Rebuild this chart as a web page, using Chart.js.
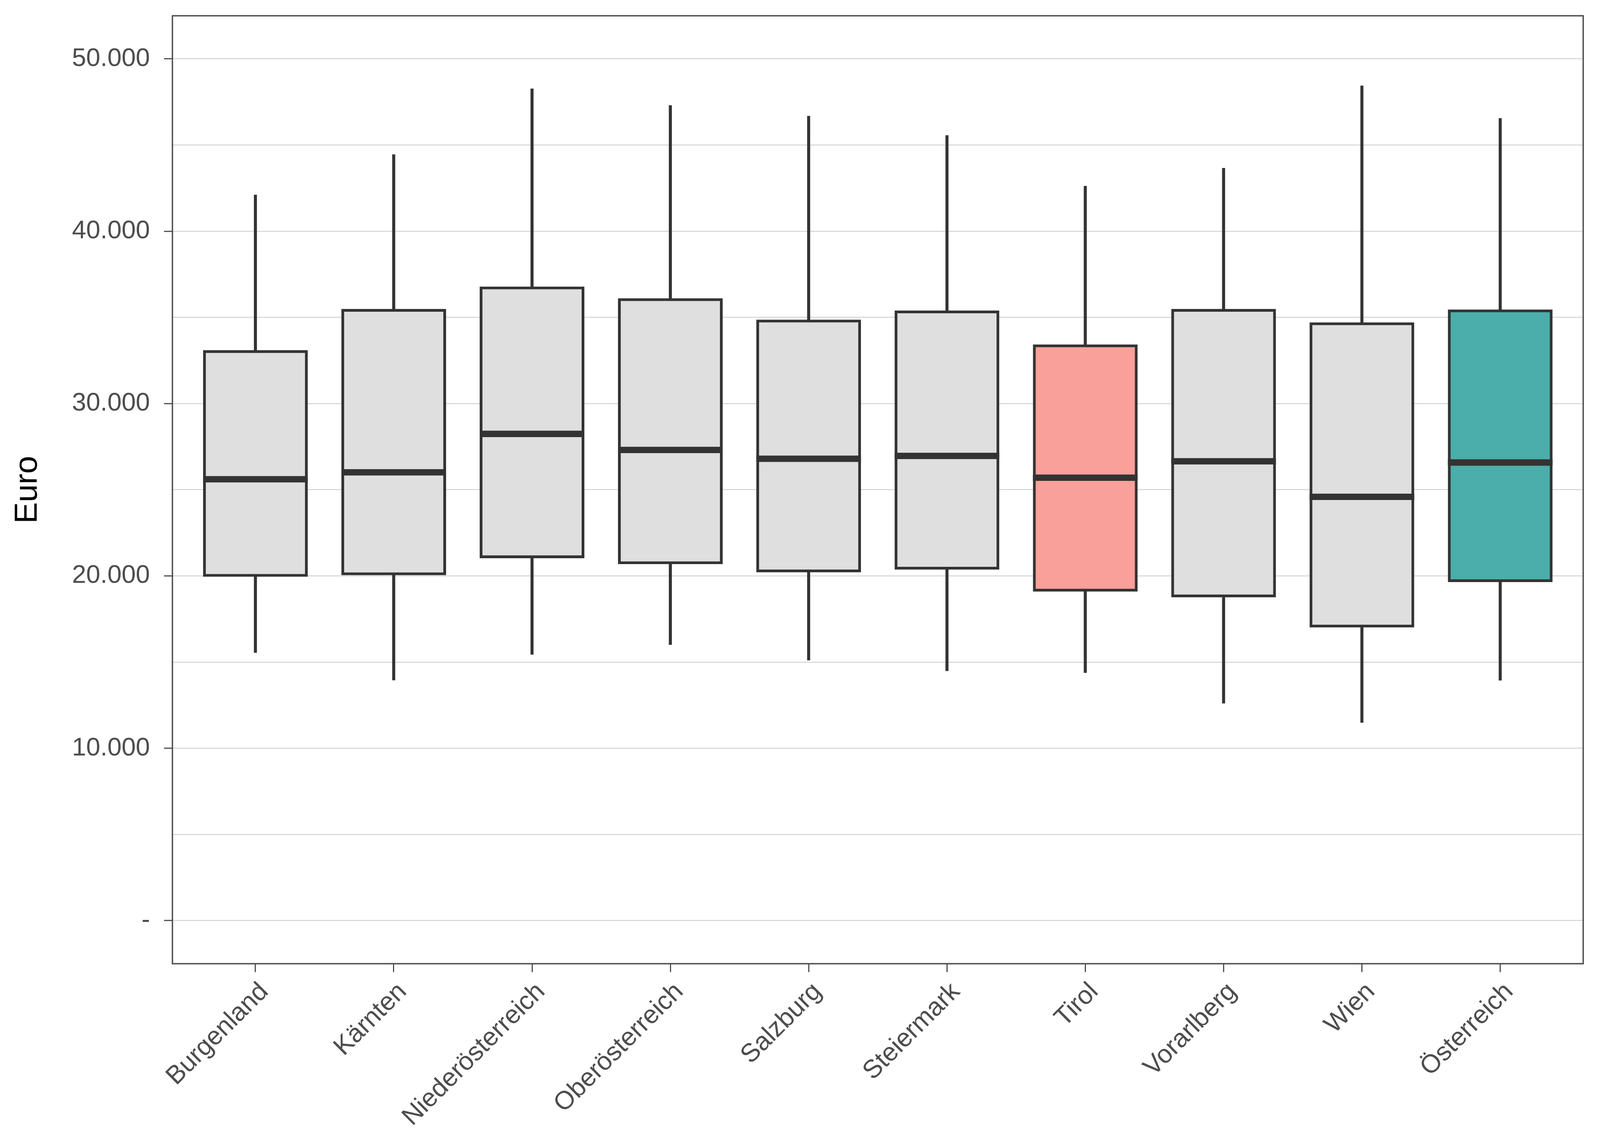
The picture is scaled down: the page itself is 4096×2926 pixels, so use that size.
<!DOCTYPE html>
<html>
<head>
<meta charset="utf-8">
<script src="https://cdn.jsdelivr.net/npm/chart.js@4.4.1/dist/chart.umd.min.js"></script>
<style>
html,body{margin:0;padding:0;background:#ffffff;}
canvas{display:block;}
</style>
</head>
<body>
<canvas id="c" width="4096" height="2926" style="width:4096px;height:2926px"></canvas>
<script>
// ---- data ----
const categories = ['Burgenland', 'Kärnten', 'Niederösterreich', 'Oberösterreich', 'Salzburg',
                    'Steiermark', 'Tirol', 'Vorarlberg', 'Wien', 'Österreich'];
const whiskerLow  = [15550, 13950, 15440, 16010, 15110, 14490, 14380, 12610, 11490, 13940];
const q1          = [20030, 20120, 21110, 20760, 20290, 20450, 19170, 18840, 17090, 19720];
const median      = [25610, 26010, 28240, 27310, 26800, 26960, 25700, 26650, 24590, 26580];
const q3          = [33020, 35410, 36710, 36030, 34790, 35320, 33350, 35410, 34630, 35380];
const whiskerHigh = [42110, 44450, 48270, 47300, 46680, 45560, 42620, 43660, 48440, 46550];

const yGridValues = [0, 5000, 10000, 15000, 20000, 25000, 30000, 35000, 40000, 45000, 50000];
const yTickValues = [0, 10000, 20000, 30000, 40000, 50000];
const yTickLabels = ['-', '10.000', '20.000', '30.000', '40.000', '50.000'];
const yAxisTitle = 'Euro';

// ---- styles ----
const FONT = '"Liberation Sans", Arial, Helvetica, sans-serif';
const LINE = '#333333';
const GREY_FILL = '#DFDFDF';
const TIROL_FILL = '#F9A09A';
const AUT_FILL = '#4BAEAB';
const boxFill = categories.map(c => c === 'Tirol' ? TIROL_FILL : (c === 'Österreich' ? AUT_FILL : GREY_FILL));
const idx = categories.map((_, i) => i);

const panelBorder = {
  id: 'panelBorder',
  afterDraw(chart) {
    const {ctx, chartArea: a} = chart;
    ctx.save();
    ctx.strokeStyle = '#4D4D4D';
    ctx.lineWidth = 3.5;
    ctx.strokeRect(a.left, a.top, a.right - a.left, a.bottom - a.top);
    ctx.restore();
  }
};

new Chart(document.getElementById('c'), {
  type: 'bar',
  data: {
    datasets: [
      {
        label: 'upper whisker',
        data: idx.map(i => ({x: i, y: [q3[i], whiskerHigh[i]]})),
        backgroundColor: LINE, borderWidth: 0, barThickness: 7.1, grouped: false, order: 4
      },
      {
        label: 'lower whisker',
        data: idx.map(i => ({x: i, y: [whiskerLow[i], q1[i]]})),
        backgroundColor: LINE, borderWidth: 0, barThickness: 7.1, grouped: false, order: 4
      },
      {
        label: 'box',
        data: idx.map(i => ({x: i, y: [q1[i], q3[i]]})),
        backgroundColor: boxFill, borderColor: LINE, borderWidth: 7.1,
        borderSkipped: false, inflateAmount: 3.55, barThickness: 261, grouped: false, order: 2
      },
      {
        type: 'line',
        label: 'median',
        data: idx.map(i => ({x: i, y: median[i]})),
        showLine: false, pointStyle: 'line',
        pointRadius: 134, pointHoverRadius: 134,
        pointBorderWidth: 16.3, pointHoverBorderWidth: 16.3,
        pointBorderColor: LINE, pointBackgroundColor: LINE,
        order: 1, clip: false
      }
    ]
  },
  options: {
    responsive: false,
    animation: false,
    events: [],
    devicePixelRatio: 1,
    layout: {autoPadding: false, padding: {top: 40.4, right: 43, left: 0, bottom: 0}},
    plugins: {legend: {display: false}, tooltip: {enabled: false}},
    scales: {
      x: {
        type: 'linear', min: -0.6, max: 9.6, offset: false,
        afterBuildTicks: ax => { ax.ticks = idx.map(v => ({value: v})); },
        afterFit: ax => { ax.height = 459; ax.paddingLeft = 0; ax.paddingRight = 0; },
        ticks: {
          autoSkip: false, minRotation: 45, maxRotation: 45,
          labelOffset: 23, padding: 12,
          color: '#4D4D4D', font: {family: FONT, size: 66},
          callback: v => categories[v]
        },
        grid: {display: true, offset: false, drawOnChartArea: false, drawTicks: true, tickLength: 21.5, tickColor: '#4D4D4D', tickWidth: 3},
        border: {display: false}
      },
      y: {
        type: 'linear', min: -2500, max: 52500,
        afterBuildTicks: ax => { ax.ticks = yGridValues.map(v => ({value: v})); },
        afterFit: ax => { ax.width = 441.4; ax.paddingTop = 0; ax.paddingBottom = 0; },
        ticks: {
          padding: 36, color: '#4D4D4D', font: {family: FONT, size: 65.3},
          callback: v => { const k = yTickValues.indexOf(v); return k >= 0 ? yTickLabels[k] : ''; }
        },
        grid: {
          offset: false,
          color: '#D4D4D4', lineWidth: 2.6, drawTicks: true, tickLength: 21.5, tickWidth: 3,
          tickColor: ctx => (ctx.tick && yTickValues.includes(ctx.tick.value)) ? '#4D4D4D' : 'rgba(0,0,0,0)'
        },
        border: {display: false},
        title: {
          display: true, text: yAxisTitle, color: '#000000',
          font: {family: FONT, size: 82, lineHeight: 1}, padding: {top: 30, bottom: 0}
        }
      }
    }
  },
  plugins: [panelBorder]
});
</script>
</body>
</html>
